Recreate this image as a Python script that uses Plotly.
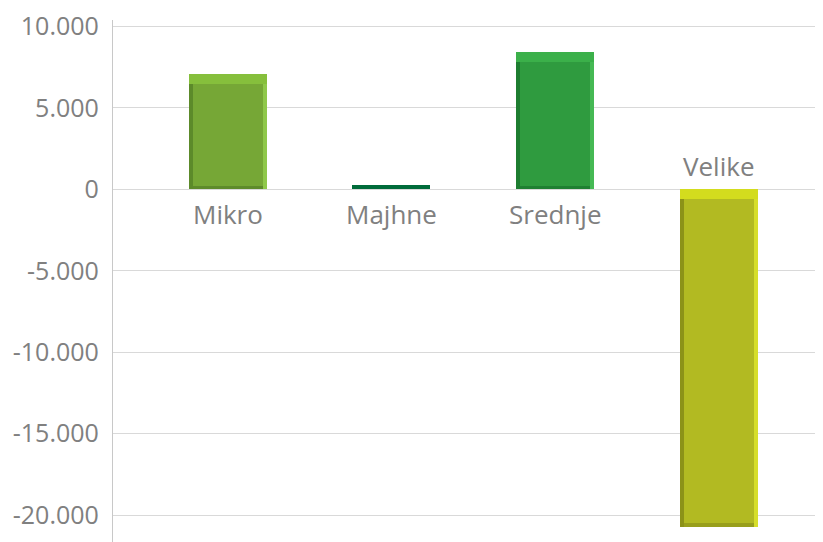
import plotly.graph_objects as go

# categories and values
categories = ["Mikro", "Majhne", "Srednje", "Velike"]
values = [7100, 250, 8450, -20700]

# y axis ticks
tick_vals = [10000, 5000, 0, -5000, -10000, -15000, -20000]
tick_text = ["10.000", "5.000", "0", "-5.000", "-10.000", "-15.000", "-20.000"]

# colours per bar: main face, top highlight, left (dark) edge, right (light) edge, bottom edge
main_col = ["#76a736", "#006b3a", "#2f9b3f", "#b2ba22"]
top_col = ["#86bf3c", "#006b3a", "#3bb04a", "#d3dc1e"]
left_col = ["#5c8a2a", "#006b3a", "#1d7d30", "#8c9218"]
right_col = ["#8fc84a", "#006b3a", "#45b954", "#d6de2a"]
bottom_col = ["#5e8b2b", "#006b3a", "#1f8032", "#989f1c"]

x = list(range(len(categories)))
w = 0.476     # bar width
ws = 0.024    # side edge width
cap = 620     # top highlight thickness (data units)
bt = 200      # bottom edge thickness

fig = go.Figure()

# bar bodies
fig.add_trace(go.Bar(x=x, y=values, width=w, marker=dict(color=main_col, line=dict(width=0))))

# only bevel the big bars
big = [i for i, v in enumerate(values) if abs(v) > 1000]
bx = [x[i] for i in big]
bv = [values[i] for i in big]

fig.add_trace(go.Bar(x=bx, y=bv, width=ws, offset=-w / 2,
                     marker=dict(color=[left_col[i] for i in big], line=dict(width=0))))
fig.add_trace(go.Bar(x=bx, y=bv, width=ws, offset=w / 2 - ws,
                     marker=dict(color=[right_col[i] for i in big], line=dict(width=0))))

# bottom (far end) edge
fig.add_trace(go.Bar(x=bx, y=[bt if v > 0 else -bt for v in bv],
                     base=[0 if v > 0 else v + bt for v in bv], width=w - 2 * ws,
                     marker=dict(color=[bottom_col[i] for i in big], line=dict(width=0))))
# top highlight cap
fig.add_trace(go.Bar(x=bx, y=[cap if v > 0 else -cap for v in bv],
                     base=[v - cap if v > 0 else 0 for v in bv], width=w,
                     marker=dict(color=[top_col[i] for i in big], line=dict(width=0))))

# category labels next to the zero line
for i, c in enumerate(categories):
    fig.add_annotation(x=x[i], y=0, text=c, showarrow=False,
                       yanchor="top" if values[i] >= 0 else "bottom",
                       yshift=-5 if values[i] >= 0 else 3,
                       font=dict(size=26, color="#808080"))

# page body has an 8px margin, so the figure is shifted by that much
fig.update_layout(
    width=815, height=534,
    barmode="overlay",
    showlegend=False,
    plot_bgcolor="white", paper_bgcolor="white",
    margin=dict(l=105, r=0, t=6, b=0),
    font=dict(family="Open Sans", size=25, color="#808080"),
    bargap=0,
)
fig.update_xaxes(range=[-0.70, 3.637], showticklabels=False, showgrid=False,
                 zeroline=False, showline=False)
fig.update_yaxes(range=[-21650, 10400], tickvals=tick_vals, ticktext=tick_text,
                 showgrid=True, gridcolor="#d9d9d9", gridwidth=1.3,
                 zeroline=True, zerolinecolor="#d9d9d9", zerolinewidth=1.3,
                 showline=True, linecolor="#c8c8c8", linewidth=1.3, ticklabelstandoff=8,
                 ticklabeloverflow="allow")

fig.write_html("out.html")
